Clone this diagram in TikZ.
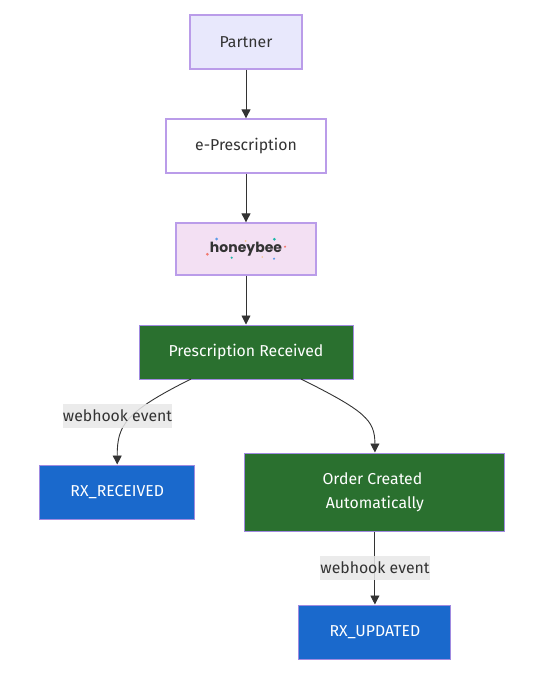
\documentclass[tikz,border=0pt]{standalone}
\usepackage{fontspec}
\setmainfont{Fira Sans}
\newfontfamily\logofont{Poppins}
\usetikzlibrary{arrows.meta,calc}
\definecolor{ink}{HTML}{333333}
\definecolor{edgecol}{HTML}{333333}
\definecolor{lav}{HTML}{E8E8FC}
\definecolor{purp}{HTML}{BA9CE9}
\definecolor{pink}{HTML}{F3E0F3}
\definecolor{dkpurp}{HTML}{A08AE0}
\definecolor{grn}{HTML}{2A702F}
\definecolor{blu}{HTML}{1A69CC}
\definecolor{lab}{HTML}{E8E8E8}
\definecolor{dotblue}{HTML}{5B9BE8}
\definecolor{dotteal}{HTML}{1CB8A8}
\definecolor{dotred}{HTML}{F27A70}
\definecolor{dotorange}{HTML}{F5C58A}
\tikzset{
 x=1pt,y=-1pt,
 base/.style={draw=purp,line width=1.3pt,inner sep=0pt,align=center,font=\fontsize{15.8}{24}\selectfont,text=ink},
 lightbox/.style={base,fill=lav},
 whitebox/.style={base,fill=white},
 logobox/.style={base,fill=pink},
 greenbox/.style={base,draw=dkpurp,line width=1pt,fill=grn,text=white},
 bluebox/.style={base,draw=dkpurp,line width=1pt,fill=blu,text=white},
 conn/.style={draw=edgecol,line width=.9pt,-{Triangle[length=9pt,width=9pt]}},
 elabel/.style={fill=lab,fill opacity=.85,text opacity=1,text=ink,inner sep=0pt,minimum width=109pt,minimum height=24pt,font=\fontsize{15.8}{18}\selectfont},
 logodot/.style={circle,inner sep=0pt,minimum size=3pt}
}
\begin{document}
\begin{tikzpicture}
\useasboundingbox (0,0) rectangle (539,682);
\node[lightbox,minimum width=112pt,minimum height=54pt] (partner) at (246,42) {Partner};
\node[whitebox,minimum width=160pt,minimum height=54pt] (epres) at (246,146) {e-Prescription};
\node[logobox,minimum width=140pt,minimum height=52pt] (honey) at (246,249) {\logofont\fontsize{14}{18}\selectfont\bfseries honeybee};
\node[greenbox,minimum width=214pt,minimum height=54pt] (pres) at (246,352) {Prescription Received};
\node[bluebox,minimum width=155pt,minimum height=54pt] (rxr) at (117.2,492) {RX\_RECEIVED};
\node[greenbox,minimum width=260pt,minimum height=78pt] (order) at (374.9,492) {Order Created\hspace*{5pt}\\Automatically};
\node[bluebox,minimum width=152pt,minimum height=54pt] (rxu) at (374.9,632) {RX\_UPDATED};
\node[logodot,fill=dotblue] (d1) at (216.7,239) {};
\node[logodot,fill=dotorange,minimum size=2pt] (d2) at (245.7,241) {};
\node[logodot,fill=dotteal] (d3) at (274.3,239.3) {};
\node[logodot,fill=dotred,minimum size=2.4pt] (d4) at (285,246.7) {};
\node[logodot,fill=dotred] (d5) at (207.3,254.3) {};
\node[logodot,fill=dotteal,minimum size=2.4pt] (d6) at (231.7,257.7) {};
\node[logodot,fill=dotorange,minimum size=1.8pt] (d7) at (262.3,257) {};
\node[logodot,fill=dotblue,minimum size=2.4pt] (d8) at (274,258.7) {};
\coordinate (presL) at (191,379);
\coordinate (presR) at (301,379);
\draw[conn] (partner) -- (epres);
\draw[conn] (epres) -- (honey);
\draw[conn] (honey) -- (pres);
\draw[conn] (presL) .. controls (125,412) and (117.2,425) .. (rxr.north);
\draw[conn] (presR) .. controls (365,411) and (374.9,420) .. (order.north);
\draw[conn] (order) -- (rxu);
\node[elabel] (l1) at (117.5,416) {webhook event};
\node[elabel] (l2) at (375,568) {webhook event};
\end{tikzpicture}
\end{document}
